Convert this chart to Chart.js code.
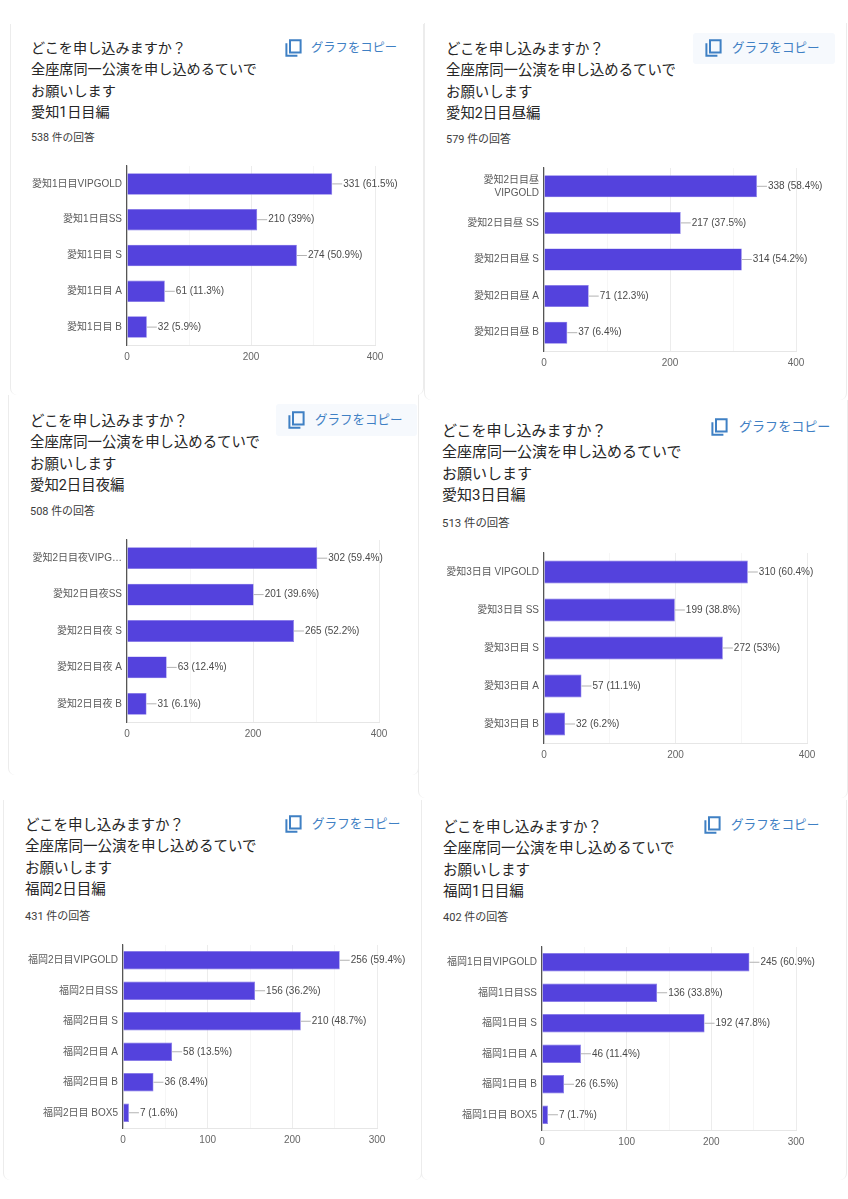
<!DOCTYPE html>
<html lang="ja">
<head>
<meta charset="utf-8">
<title>どこを申し込みますか？</title>
<script src="https://cdn.jsdelivr.net/npm/chart.js@4"></script>
<style>
html, body { margin: 0; padding: 0; background: #fff; }
body { position: relative; width: 848px; height: 1199px; overflow: hidden; font-family: Roboto, "Noto Sans CJK JP", sans-serif; }
canvas { position: absolute; }
.card { position: absolute; border-left: 1.5px solid #ececec; border-right: 1.5px solid #ececec; border-radius: 0 0 7px 7px; box-sizing: border-box; }
.title { position: absolute; color: #262626; white-space: nowrap; line-height: 21px; }
.count { position: absolute; line-height: 14px; color: #3c3c3c; white-space: nowrap; }
.copybg { position: absolute; background: #f6f9fd; border-radius: 3px; }
.copytext { position: absolute; line-height: 16px; color: #3f80c4; white-space: nowrap; }
.icon { position: absolute; width: 17px; height: 18px; }
</style>
</head>
<body>
<script>
// Data
var aichi1Labels = ['愛知1日目VIPGOLD', '愛知1日目SS', '愛知1日目 S', '愛知1日目 A', '愛知1日目 B'];
var aichi1Values = [331, 210, 274, 61, 32];
var aichi1Pct = [61.5, 39, 50.9, 11.3, 5.9];

var aichi2HiruLabels = [['愛知2日目昼', 'VIPGOLD'], '愛知2日目昼 SS', '愛知2日目昼 S', '愛知2日目昼 A', '愛知2日目昼 B'];
var aichi2HiruValues = [338, 217, 314, 71, 37];
var aichi2HiruPct = [58.4, 37.5, 54.2, 12.3, 6.4];

var aichi2YoruLabels = ['愛知2日目夜VIPG…', '愛知2日目夜SS', '愛知2日目夜 S', '愛知2日目夜 A', '愛知2日目夜 B'];
var aichi2YoruValues = [302, 201, 265, 63, 31];
var aichi2YoruPct = [59.4, 39.6, 52.2, 12.4, 6.1];

var aichi3Labels = ['愛知3日目 VIPGOLD', '愛知3日目 SS', '愛知3日目 S', '愛知3日目 A', '愛知3日目 B'];
var aichi3Values = [310, 199, 272, 57, 32];
var aichi3Pct = [60.4, 38.8, 53, 11.1, 6.2];

var fukuoka2Labels = ['福岡2日目VIPGOLD', '福岡2日目SS', '福岡2日目 S', '福岡2日目 A', '福岡2日目 B', '福岡2日目 BOX5'];
var fukuoka2Values = [256, 156, 210, 58, 36, 7];
var fukuoka2Pct = [59.4, 36.2, 48.7, 13.5, 8.4, 1.6];

var fukuoka1Labels = ['福岡1日目VIPGOLD', '福岡1日目SS', '福岡1日目 S', '福岡1日目 A', '福岡1日目 B', '福岡1日目 BOX5'];
var fukuoka1Values = [245, 136, 192, 46, 26, 7];
var fukuoka1Pct = [60.9, 33.8, 47.8, 11.4, 6.5, 1.7];

var titleLines = ['どこを申し込みますか？', '全座席同一公演を申し込めるていで', 'お願いします'];
var copyText = 'グラフをコピー';
var countSuffix = ' 件の回答';

// Panels: text, data and where each one sits on the page
var panels = [
    { name: '愛知1日目編', count: 538, labels: aichi1Labels, values: aichi1Values, pct: aichi1Pct, max: 400, major: 200, step: 100,
      plot: [127, 166, 375, 345], fs: 14.15, tx: 31, ty: 38, cy: 131, icon: [285, 39], copy: [311, 40] },
    { name: '愛知2日目昼編', count: 579, labels: aichi2HiruLabels, values: aichi2HiruValues, pct: aichi2HiruPct, max: 400, major: 200, step: 100,
      plot: [544, 168, 796, 351], fs: 14.4, tx: 446, ty: 39, cy: 133, icon: [705, 39], copy: [732, 40], bg: [693, 33, 142, 31] },
    { name: '愛知2日目夜編', count: 508, labels: aichi2YoruLabels, values: aichi2YoruValues, pct: aichi2YoruPct, max: 400, major: 200, step: 100,
      plot: [127, 540, 379, 722], fs: 14.4, tx: 30, ty: 411, cy: 505, icon: [288, 411], copy: [315, 412], bg: [276, 404, 141, 32] },
    { name: '愛知3日目編', count: 513, labels: aichi3Labels, values: aichi3Values, pct: aichi3Pct, max: 400, major: 200, step: 100,
      plot: [544, 553, 807, 743], fs: 15, tx: 442, ty: 421, cy: 516, icon: [711, 418], copy: [739, 419] },
    { name: '福岡2日目編', count: 431, labels: fukuoka2Labels, values: fukuoka2Values, pct: fukuoka2Pct, max: 300, major: 100, step: 50,
      plot: [123, 945, 377, 1128], fs: 14.5, tx: 25, ty: 815, cy: 910, icon: [285, 815], copy: [312, 816] },
    { name: '福岡1日目編', count: 402, labels: fukuoka1Labels, values: fukuoka1Values, pct: fukuoka1Pct, max: 300, major: 100, step: 50,
      plot: [542, 947, 796, 1130], fs: 14.5, tx: 443, ty: 817, cy: 911, icon: [704, 816], copy: [731, 817] }
];

// Card side lines behind the panels
var cards = [
    [10, 24, 414, 371], [424, 23, 423, 377],
    [8, 395, 411, 380], [418, 400, 430, 398],
    [3, 800, 419, 380], [421, 800, 426, 380]
];

var AXIS_W = 110, RIGHT_W = 40, TOP_H = 14, BOTTOM_H = 24;
var CHART_FONT = '"Liberation Sans", "Noto Sans CJK JP", sans-serif';

function agregarTexto(clase, x, y, texto, size) {
    var el = document.createElement('div');
    el.className = clase;
    el.style.left = x + 'px';
    el.style.top = y + 'px';
    el.style.fontSize = size + 'px';
    el.textContent = texto;
    document.body.appendChild(el);
}

function agregarIcono(x, y) {
    var ns = 'http://www.w3.org/2000/svg';
    var svg = document.createElementNS(ns, 'svg');
    svg.setAttribute('class', 'icon');
    svg.setAttribute('viewBox', '0 0 17 18');
    svg.style.left = x + 'px';
    svg.style.top = y + 'px';
    var p = document.createElementNS(ns, 'path');
    p.setAttribute('d', 'M5 1.2h10.6v12.4H5z M1.4 4.2v12.6h11');
    p.setAttribute('fill', 'none');
    p.setAttribute('stroke', '#3f80c4');
    p.setAttribute('stroke-width', '2');
    svg.appendChild(p);
    document.body.appendChild(svg);
}

// Value label with its short leader line, placed from the bar the library drew
var etiquetasValor = {
    id: 'etiquetasValor',
    afterDatasetsDraw: function (chart) {
        var ctx = chart.ctx;
        var pct = chart.options.plugins.etiquetasValor.pct;
        var values = chart.data.datasets[0].data;
        ctx.save();
        ctx.font = '10px ' + CHART_FONT;
        ctx.textBaseline = 'middle';
        ctx.textAlign = 'left';
        chart.getDatasetMeta(0).data.forEach(function (bar, i) {
            ctx.strokeStyle = '#b3b3b3';
            ctx.lineWidth = 1;
            ctx.beginPath();
            ctx.moveTo(bar.x, bar.y);
            ctx.lineTo(bar.x + 10, bar.y);
            ctx.stroke();
            ctx.fillStyle = '#4a4a4a';
            ctx.fillText(values[i] + ' (' + pct[i] + '%)', bar.x + 11, bar.y);
        });
        ctx.restore();
    }
};

function crearGrafico(p) {
    var canvas = document.createElement('canvas');
    var w = p.plot[2] - p.plot[0];
    var h = p.plot[3] - p.plot[1];
    canvas.width = w + AXIS_W + RIGHT_W;
    canvas.height = h + TOP_H + BOTTOM_H;
    canvas.style.left = (p.plot[0] - AXIS_W) + 'px';
    canvas.style.top = (p.plot[1] - TOP_H) + 'px';
    document.body.appendChild(canvas);

    new Chart(canvas.getContext('2d'), {
        type: 'bar',
        data: {
            labels: p.labels,
            datasets: [{
                data: p.values,
                backgroundColor: '#5442dd',
                borderColor: '#7d6fe6',
                borderWidth: 0.6,
                categoryPercentage: 0.6,
                barPercentage: 1
            }]
        },
        plugins: [etiquetasValor],
        options: {
            indexAxis: 'y',
            responsive: false,
            animation: false,
            layout: { padding: { top: TOP_H, right: RIGHT_W, left: 0, bottom: 0 } },
            plugins: {
                legend: { display: false },
                tooltip: { enabled: false },
                etiquetasValor: { pct: p.pct }
            },
            scales: {
                x: {
                    type: 'linear',
                    min: 0,
                    max: p.max,
                    afterFit: function (scale) { scale.height = BOTTOM_H; },
                    border: { color: '#e6e6e6' },
                    grid: {
                        drawTicks: false,
                        color: function (c) { return c.tick.value % p.major === 0 ? '#ececec' : '#f6f6f6'; }
                    },
                    ticks: {
                        stepSize: p.step,
                        autoSkip: false,
                        maxRotation: 0,
                        padding: 6,
                        color: '#666666',
                        font: { family: CHART_FONT, size: 10 },
                        callback: function (v) { return v % p.major === 0 ? v : ''; }
                    }
                },
                y: {
                    afterFit: function (scale) { scale.width = AXIS_W; },
                    border: { color: '#555555', width: 1.2 },
                    grid: { display: false, drawTicks: false },
                    ticks: {
                        autoSkip: false,
                        padding: 5,
                        color: '#5a5a5a',
                        font: { family: CHART_FONT, size: 10, lineHeight: 1.3 }
                    }
                }
            }
        }
    });
}

cards.forEach(function (c) {
    var el = document.createElement('div');
    el.className = 'card';
    el.style.left = c[0] + 'px';
    el.style.top = c[1] + 'px';
    el.style.width = c[2] + 'px';
    el.style.height = c[3] + 'px';
    document.body.appendChild(el);
});

panels.forEach(function (p) {
    if (p.bg) {
        var bg = document.createElement('div');
        bg.className = 'copybg';
        bg.style.left = p.bg[0] + 'px';
        bg.style.top = p.bg[1] + 'px';
        bg.style.width = p.bg[2] + 'px';
        bg.style.height = p.bg[3] + 'px';
        document.body.appendChild(bg);
    }
    titleLines.concat([p.name]).forEach(function (linea, i) {
        agregarTexto('title', p.tx, p.ty + i * 21.4, linea, p.fs);
    });
    agregarTexto('count', p.tx, p.cy, p.count + countSuffix, p.fs * 0.76);
    agregarIcono(p.icon[0], p.icon[1]);
    agregarTexto('copytext', p.copy[0], p.copy[1], copyText, p.fs * 0.87);
    crearGrafico(p);
});
</script>
</body>
</html>
